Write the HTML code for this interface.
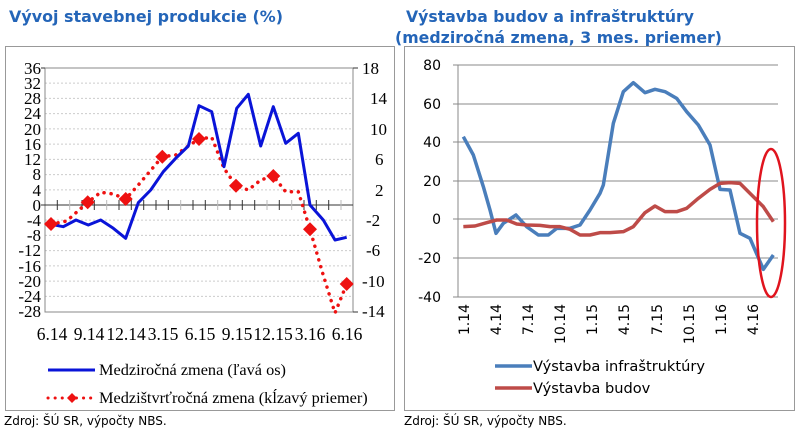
<!DOCTYPE html>
<html><head><meta charset="utf-8"><style>body{margin:0;background:#fff}svg{display:block}</style></head><body>
<svg width="800" height="430" viewBox="0 0 800 430" xmlns="http://www.w3.org/2000/svg">
<rect width="800" height="430" fill="#fff"/>
<g font-family="DejaVu Sans, Liberation Sans, sans-serif" font-weight="bold" fill="#2465b8" font-size="16">
<text x="9" y="22" textLength="274" lengthAdjust="spacingAndGlyphs">Vývoj stavebnej produkcie (%)</text>
<text x="406" y="22" textLength="288" lengthAdjust="spacingAndGlyphs">Výstavba budov a infraštruktúry</text>
<text x="395" y="43" textLength="327" lengthAdjust="spacingAndGlyphs">(medziročná zmena, 3 mes. priemer)</text>
</g>
<rect x="5.5" y="46.5" width="389" height="364" fill="none" stroke="#999"/>
<rect x="404.5" y="46.5" width="390" height="364" fill="none" stroke="#999"/>
<!-- left chart -->
<g stroke="#ccc" stroke-dasharray="2,2" stroke-width="1">
<line x1="45" x2="353" y1="83.1" y2="83.1"/><line x1="45" x2="353" y1="98.4" y2="98.4"/><line x1="45" x2="353" y1="113.6" y2="113.6"/><line x1="45" x2="353" y1="128.9" y2="128.9"/><line x1="45" x2="353" y1="144.1" y2="144.1"/><line x1="45" x2="353" y1="159.4" y2="159.4"/><line x1="45" x2="353" y1="174.6" y2="174.6"/><line x1="45" x2="353" y1="189.9" y2="189.9"/><line x1="45" x2="353" y1="220.1" y2="220.1"/><line x1="45" x2="353" y1="235.4" y2="235.4"/><line x1="45" x2="353" y1="250.6" y2="250.6"/><line x1="45" x2="353" y1="265.9" y2="265.9"/><line x1="45" x2="353" y1="281.1" y2="281.1"/><line x1="45" x2="353" y1="296.4" y2="296.4"/>
</g>
<rect x="45" y="68" width="308" height="244" fill="none" stroke="#888"/>
<line x1="45" x2="353" y1="205" y2="205" stroke="#333"/>
<g stroke="#333">
<line x1="57.3" x2="57.3" y1="200" y2="210"/><line x1="69.7" x2="69.7" y1="200" y2="210" stroke="#bbb"/><line x1="82" x2="82" y1="200" y2="210"/><line x1="94.3" x2="94.3" y1="200" y2="210"/><line x1="106.7" x2="106.7" y1="200" y2="210" stroke="#bbb"/><line x1="119" x2="119" y1="200" y2="210"/><line x1="131.3" x2="131.3" y1="200" y2="210"/><line x1="143.7" x2="143.7" y1="200" y2="210"/><line x1="156" x2="156" y1="200" y2="210"/><line x1="168.3" x2="168.3" y1="200" y2="210"/><line x1="180.7" x2="180.7" y1="200" y2="210" stroke="#bbb"/><line x1="193" x2="193" y1="200" y2="210"/><line x1="205.3" x2="205.3" y1="200" y2="210"/><line x1="217.7" x2="217.7" y1="200" y2="210" stroke="#bbb"/><line x1="230" x2="230" y1="200" y2="210"/><line x1="242.3" x2="242.3" y1="200" y2="210"/><line x1="254.7" x2="254.7" y1="200" y2="210"/><line x1="267" x2="267" y1="200" y2="210" stroke="#bbb"/><line x1="279.3" x2="279.3" y1="200" y2="210"/><line x1="291.7" x2="291.7" y1="200" y2="210" stroke="#bbb"/><line x1="304" x2="304" y1="200" y2="210"/><line x1="316.3" x2="316.3" y1="200" y2="210"/><line x1="328.7" x2="328.7" y1="200" y2="210"/><line x1="341" x2="341" y1="200" y2="210" stroke="#bbb"/>
</g>
<g stroke="#333"><line x1="41" x2="45" y1="68" y2="68"/><line x1="41" x2="45" y1="205" y2="205"/><line x1="353" x2="358" y1="68" y2="68"/><line x1="353" x2="358" y1="312" y2="312"/></g>
<g font-family="Liberation Serif, serif" font-size="17" fill="#000" text-anchor="end">
<text x="41" y="74">36</text><text x="41" y="89">32</text><text x="41" y="104">28</text><text x="41" y="119">24</text><text x="41" y="135">20</text><text x="41" y="150">16</text><text x="41" y="165">12</text><text x="41" y="180">8</text><text x="41" y="196">4</text><text x="41" y="211">0</text><text x="41" y="226">-4</text><text x="41" y="241">-8</text><text x="41" y="256">-12</text><text x="41" y="272">-16</text><text x="41" y="287">-20</text><text x="41" y="302">-24</text><text x="41" y="317">-28</text>
</g>
<g font-family="Liberation Serif, serif" font-size="17" fill="#000">
<text x="362" y="74">18</text><text x="370" y="104">14</text><text x="370" y="135">10</text><text x="375" y="165">6</text><text x="375" y="196">2</text><text x="366" y="226">-2</text><text x="366" y="256">-6</text><text x="362" y="287">-10</text><text x="362" y="317">-14</text>
</g>
<g font-family="Liberation Serif, serif" font-size="17.5" fill="#000" text-anchor="middle">
<text x="52" y="340">6.14</text><text x="89" y="340">9.14</text><text x="126" y="340">12.14</text><text x="163" y="340">3.15</text><text x="200" y="340">6.15</text><text x="237" y="340">9.15</text><text x="273" y="340">12.15</text><text x="310" y="340">3.16</text><text x="347" y="340">6.16</text>
</g>
<polyline fill="none" stroke="#ee1111" stroke-width="3.5" stroke-dasharray="0.1,7" stroke-linecap="round" points="51,224.3 66.7,221 87.7,202.3 100.7,192.3 113.3,194 125.7,199 138.3,185 162.3,156.7 175.7,155 188.3,146 199,139 211.7,137.3 224,168.3 236,185.7 248.3,190 260.7,180 273.3,176 285.7,191.7 298.3,191.7 310,229.3 321.7,270 335,313 346.7,284"/>
<polyline fill="none" stroke="#0a14d8" stroke-width="3" stroke-linejoin="round" points="51,224.3 63.3,226.7 76,220 88.3,225 100.7,220 113.3,228.3 125.7,238.3 138.3,202.7 150.7,190 163.3,171.7 175.7,158.3 188.3,146 199,105.7 211.7,111.7 224,166.7 236.7,108.3 248.3,94.3 260.7,146 273.3,106.7 285.7,143.3 298.3,133.3 310,205 323.3,220 335,240 346.7,237.3"/>
<g fill="#ee1111">
<path d="M51,217l7,7l-7,7l-7,-7z"/><path d="M87.7,195.3l7,7l-7,7l-7,-7z"/><path d="M125.7,192l7,7l-7,7l-7,-7z"/><path d="M162.3,149.7l7,7l-7,7l-7,-7z"/><path d="M199,132l7,7l-7,7l-7,-7z"/><path d="M236,178.7l7,7l-7,7l-7,-7z"/><path d="M273.3,169l7,7l-7,7l-7,-7z"/><path d="M310,222.3l7,7l-7,7l-7,-7z"/><path d="M346.7,277l7,7l-7,7l-7,-7z"/>
</g>
<line x1="48" x2="95" y1="370" y2="370" stroke="#0a14d8" stroke-width="3"/>
<line x1="48" x2="95" y1="398" y2="398" stroke="#ee1111" stroke-width="3" stroke-dasharray="0.1,7" stroke-linecap="round"/>
<path d="M72,393l5,5l-5,5l-5,-5z" fill="#ee1111"/>
<g font-family="Liberation Serif, serif" font-size="16.3" fill="#000">
<text x="99" y="375">Medziročná zmena (ľavá os)</text>
<text x="99" y="403">Medzištvrťročná zmena (kĺzavý priemer)</text>
</g>
<g font-family="DejaVu Sans, sans-serif" font-size="12" fill="#000">
<text x="4" y="425">Zdroj: ŠÚ SR, výpočty NBS.</text>
<text x="404" y="425">Zdroj: ŠÚ SR, výpočty NBS.</text>
</g>
<!-- right chart -->
<g stroke="#888" stroke-width="1">
<line x1="458" x2="778" y1="65" y2="65"/><line x1="458" x2="778" y1="104" y2="104"/><line x1="458" x2="778" y1="142" y2="142"/><line x1="458" x2="778" y1="181" y2="181"/><line x1="458" x2="778" y1="219" y2="219"/><line x1="458" x2="778" y1="258" y2="258"/><line x1="458" x2="778" y1="297" y2="297"/>
<line x1="458" x2="458" y1="65" y2="297"/>
<line x1="453" x2="458" y1="65" y2="65"/><line x1="453" x2="458" y1="104" y2="104"/><line x1="453" x2="458" y1="142" y2="142"/><line x1="453" x2="458" y1="181" y2="181"/><line x1="453" x2="458" y1="219" y2="219"/><line x1="453" x2="458" y1="258" y2="258"/><line x1="453" x2="458" y1="297" y2="297"/>
</g>
<g font-family="DejaVu Sans, sans-serif" font-size="14" fill="#000" text-anchor="end">
<text x="441" y="70">80</text><text x="441" y="109">60</text><text x="441" y="147">40</text><text x="441" y="186">20</text><text x="441" y="224">0</text><text x="441" y="263">-20</text><text x="441" y="302">-40</text>
</g>
<g font-family="DejaVu Sans, sans-serif" font-size="14" fill="#000" text-anchor="end">
<text transform="translate(469,304) rotate(-90)">1.14</text><text transform="translate(501,304) rotate(-90)">4.14</text><text transform="translate(533,304) rotate(-90)">7.14</text><text transform="translate(565,304) rotate(-90)">10.14</text><text transform="translate(597,304) rotate(-90)">1.15</text><text transform="translate(629,304) rotate(-90)">4.15</text><text transform="translate(662,304) rotate(-90)">7.15</text><text transform="translate(694,304) rotate(-90)">10.15</text><text transform="translate(726,304) rotate(-90)">1.16</text><text transform="translate(758,304) rotate(-90)">4.16</text>
</g>
<g transform="translate(400,40) scale(0.33333)" fill="none" stroke-linejoin="round">
<polyline vector-effect="non-scaling-stroke" stroke="#4a7ebb" stroke-width="3.5" points="190,290 220,345 250,440 270,510 288,580 310,550 348,525 380,560 415,585 445,585 470,565 510,565 540,555 570,510 600,460 610,435 640,250 670,155 700,128 735,158 765,148 795,155 830,175 860,215 895,255 930,315 960,448 990,450 1020,580 1050,595 1090,688 1120,645"/>
<polyline vector-effect="non-scaling-stroke" stroke="#be4b48" stroke-width="3.5" points="190,560 225,558 260,548 290,540 320,540 350,552 380,555 420,556 450,560 480,560 510,568 540,585 570,585 600,578 630,578 670,575 700,560 735,518 765,498 795,515 830,515 860,505 895,475 930,448 960,430 990,428 1020,430 1050,460 1090,500 1120,545"/>
</g>
<ellipse cx="771" cy="223" rx="14" ry="74" fill="none" stroke="#e0141e" stroke-width="2.5"/>
<line x1="495" x2="532" y1="366" y2="366" stroke="#4a7ebb" stroke-width="3.5"/>
<line x1="495" x2="532" y1="388" y2="388" stroke="#be4b48" stroke-width="3.5"/>
<g font-family="DejaVu Sans, sans-serif" font-size="14.6" fill="#000">
<text x="533" y="371">Výstavba infraštruktúry</text>
<text x="533" y="393">Výstavba budov</text>
</g>
</svg>
</body></html>
